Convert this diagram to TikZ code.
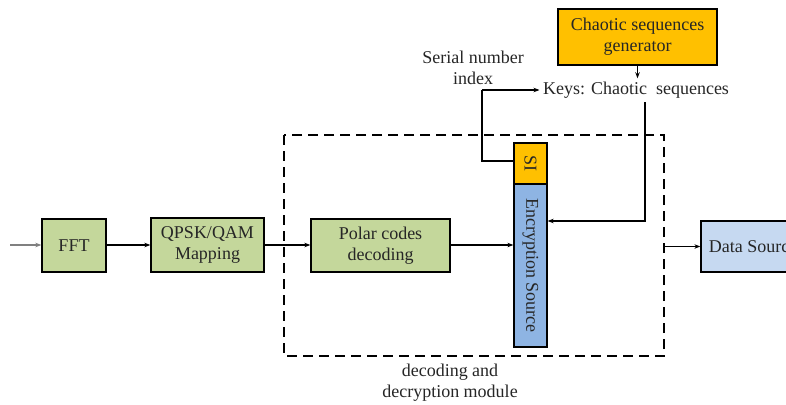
\documentclass[tikz,border=0pt]{standalone}
\usepackage{fontspec}
\setmainfont{Liberation Serif}
\usetikzlibrary{arrows.meta,positioning}
\definecolor{boxgreen}{HTML}{C4D79B}
\definecolor{boxorange}{HTML}{FFC000}
\definecolor{encblue}{HTML}{8EB4E3}
\definecolor{srcblue}{HTML}{C6D9F1}
\definecolor{txt}{HTML}{262626}
\tikzset{
  blk/.style={draw=black, line width=1.3pt, inner sep=0pt, align=center,
    text=txt, font=\fontsize{18}{21}\selectfont},
  greenblk/.style={blk, fill=boxgreen},
  lbl/.style={align=center, text=txt, font=\fontsize{18}{21}\selectfont},
  conn/.style={line width=1.1pt, -{Stealth[length=6pt,width=4.5pt]}},
  plain/.style={line width=1.1pt},
}
\begin{document}
\begin{tikzpicture}[x=1pt,y=-1pt]
\useasboundingbox (0,0) rectangle (786,404);
\clip (0,0) rectangle (786,404);
\fill[white] (0,0) rectangle (786,404);

% module frame
\draw[line width=1.5pt, dash pattern=on 10pt off 6pt] (284,135) rectangle (664,356);

% processing blocks
\node[greenblk, minimum width=64pt, minimum height=53pt] (fft) at (74,245.5) {FFT};
\node[greenblk, minimum width=113pt, minimum height=54pt] (qam) at (207.5,245) {QPSK/QAM\\Mapping};
\node[greenblk, minimum width=139pt, minimum height=53pt] (polar) at (380.5,245.5) {Polar codes\\decoding};
\node[blk, fill=boxorange, minimum width=33pt, minimum height=41pt] (si) at (530.5,163.5) {\rotatebox{-90}{SI}};
\node[blk, fill=encblue, minimum width=33pt, minimum height=163pt] (enc) at (530.5,265.5) {\rotatebox{-90}{Encryption Source}};
\node[blk, fill=boxorange, minimum width=159pt, minimum height=56pt] (gen) at (637.5,37) {Chaotic sequences\\generator};
\node[blk, fill=srcblue, minimum width=104pt, minimum height=51pt] (src) at (753,246.5) {Data Source};

% labels
\node[lbl] (keys) at (636,90) {Keys: Chaotic\ \ sequences};
\node[lbl] (serial) at (473,68) {Serial number\\index};
\node[lbl] (cap) at (450,383) {decoding and\\decryption module};

% routing points
\coordinate (in) at (10,245);
\coordinate (siturn) at (482,161);
\coordinate (keyturn) at (482,90);
\coordinate (keydrop) at (645,102);
\coordinate (keycorner) at (645,221);
\coordinate (frameout) at (664,246.5);

% connectors
\draw[conn, draw=gray] (in) -- (fft.west |- in);
\draw[conn] (fft.east |- qam) -- (qam.west);
\draw[conn] (qam.east) -- (polar.west |- qam);
\draw[conn] (polar.east |- qam) -- (enc.west |- qam);
\draw[conn] (gen.south) -- (gen.south |- keys.north);
\draw[plain] (si.west |- siturn) -- (siturn) -- (keyturn);
\draw[conn] (keyturn) -- (keys.west);
\draw[conn] (keydrop) -- (keycorner) -- (enc.east |- keycorner);
\draw[conn] (frameout) -- (src.west);
\end{tikzpicture}
\end{document}
